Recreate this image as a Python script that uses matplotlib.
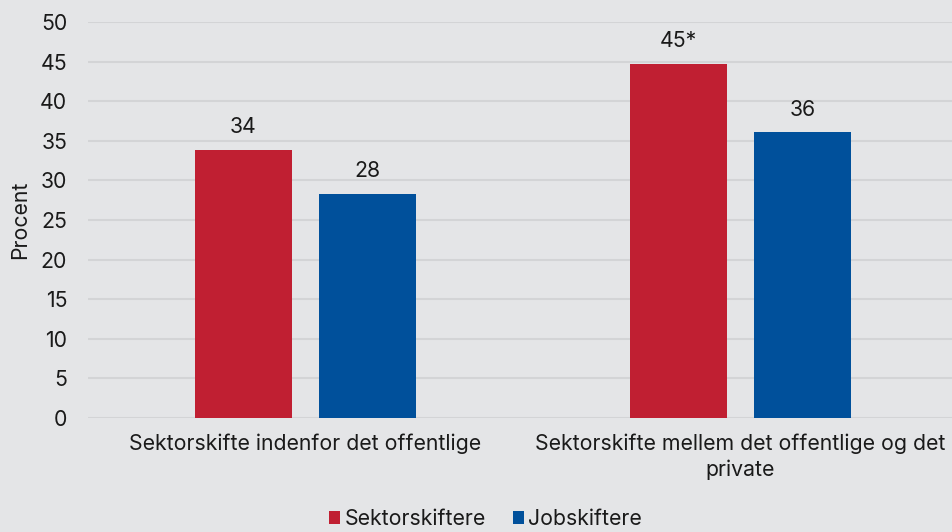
import numpy as np
import matplotlib.pyplot as plt

categories = ["Sektorskifte indenfor det offentlige",
              "Sektorskifte mellem det offentlige og det\nprivate"]
series_names = ["Sektorskiftere", "Jobskiftere"]
sektor = [33.9, 44.7]
job = [28.3, 36.1]
sektor_labels = ["34", "45*"]
job_labels = ["28", "36"]

BG = "#e4e5e7"
RED = "#c01f32"
BLUE = "#00509b"
TXT = "#1a1a1a"
FS = 15.3

plt.rcParams["font.family"] = ["Inter", "DejaVu Sans"]

fig = plt.figure(figsize=(9.52, 5.32), dpi=100, facecolor=BG)
ax = fig.add_axes([88 / 952, 114 / 532, 870 / 952, 396 / 532], facecolor=BG)

x = np.arange(len(categories))
w = 0.225
off = 0.1425
b1 = ax.bar(x - off, sektor, w, color=RED, label=series_names[0], zorder=3)
b2 = ax.bar(x + off, job, w, color=BLUE, label=series_names[1], zorder=3)
ax.bar_label(b1, labels=sektor_labels, padding=9, fontsize=FS, color=TXT)
ax.bar_label(b2, labels=job_labels, padding=9, fontsize=FS, color=TXT)

ax.set_xlim(-0.5, 1.5)
ax.set_ylim(0, 50)
ax.set_yticks(range(0, 51, 5))
ax.set_xticks(x)
ax.set_xticklabels(categories, fontsize=FS, color=TXT, linespacing=1.35)
ax.tick_params(axis="y", labelsize=FS, colors=TXT, length=0, pad=15)
ax.tick_params(axis="x", length=0, pad=11)
ax.grid(axis="y", color="#d3d4d6", linewidth=1.5, zorder=0)
for s in ax.spines.values():
    s.set_visible(False)
ax.set_ylabel("Procent", fontsize=FS, color=TXT, labelpad=7)

leg = fig.legend(loc="lower center", bbox_to_anchor=(0.51, -0.03), ncol=2, frameon=False,
                 fontsize=FS, handlelength=0.55, handleheight=0.55, handletextpad=0.2,
                 columnspacing=1.25)
for t in leg.get_texts():
    t.set_color(TXT)

fig.savefig("out.png", dpi=100, facecolor=BG)
